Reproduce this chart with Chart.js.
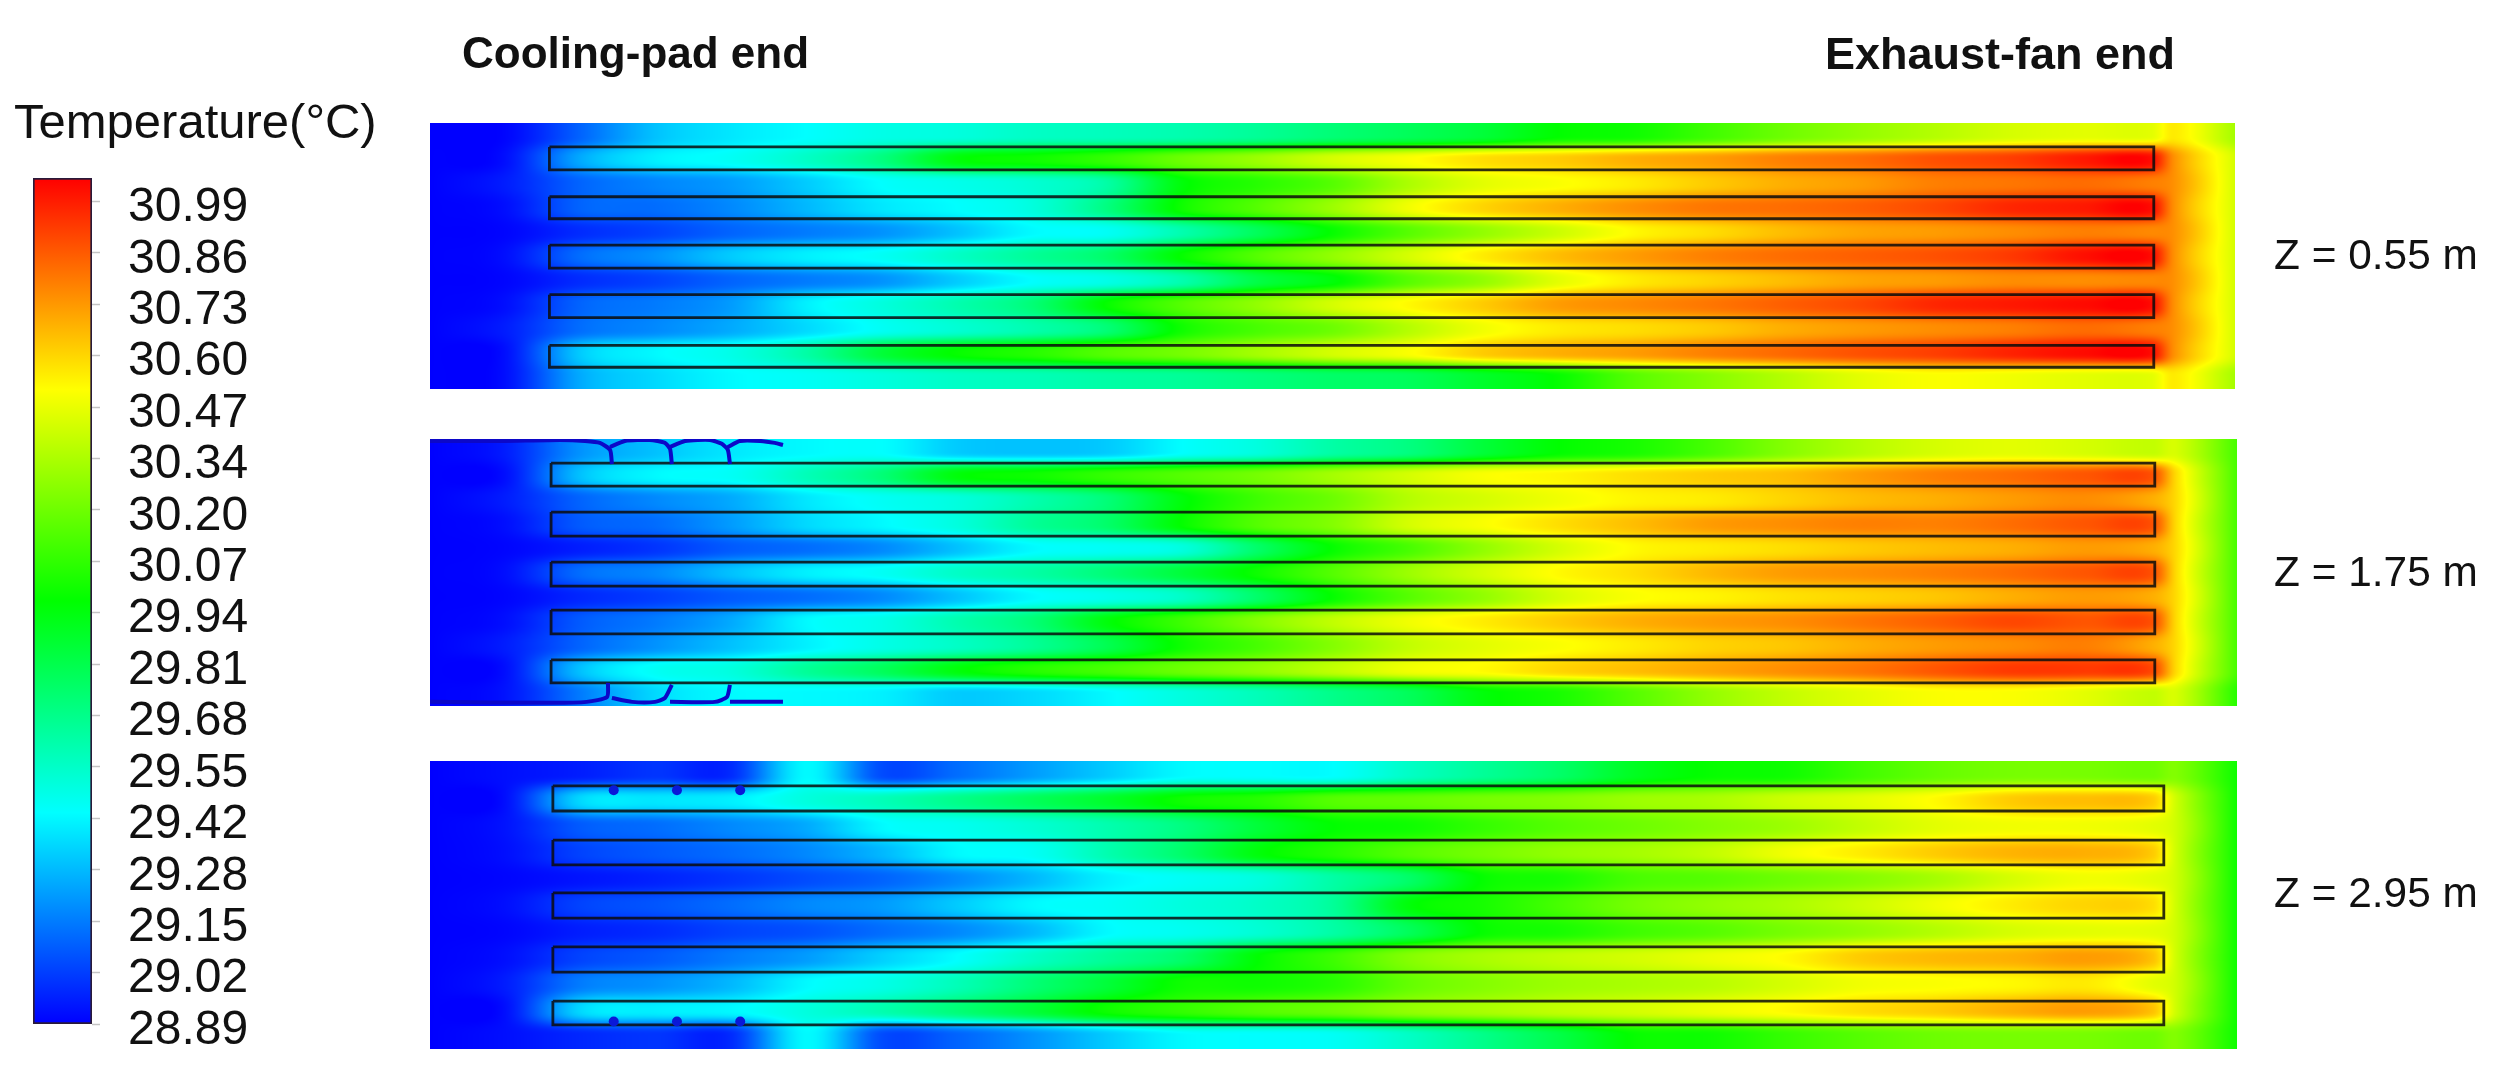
<!DOCTYPE html>
<html>
<head>
<meta charset="utf-8">
<script src="https://cdn.jsdelivr.net/npm/chart.js@4"></script>
<style>
html,body{margin:0;padding:0;background:#fff;width:2497px;height:1073px;overflow:hidden;}
canvas{position:absolute;filter:blur(0.7px);}
.t{position:absolute;font-family:"Liberation Sans",Arial,sans-serif;color:#111;line-height:1;white-space:nowrap;filter:blur(0.4px);}
</style>
</head>
<body>
<div class="t" style="left:14px;top:97px;font-size:49px;">Temperature(°C)</div>
<div class="t" style="left:462px;top:31px;font-size:44px;font-weight:bold;">Cooling-pad end</div>
<div class="t" style="left:1825px;top:31px;font-size:45px;font-weight:bold;">Exhaust-fan end</div>
<div class="t" style="left:2274px;top:234px;font-size:42.4px;">Z = 0.55 m</div>
<div class="t" style="left:2274px;top:551px;font-size:42.4px;">Z = 1.75 m</div>
<div class="t" style="left:2274px;top:872px;font-size:42.4px;">Z = 2.95 m</div>

<canvas id="bar" width="255" height="940" style="left:0;top:130px;width:255px;height:940px"></canvas>
<canvas id="p1" width="1805" height="266" style="left:430px;top:123px;width:1805px;height:266px"></canvas>
<canvas id="p2" width="1807" height="267" style="left:430px;top:439px;width:1807px;height:267px"></canvas>
<canvas id="p3" width="1807" height="288" style="left:430px;top:761px;width:1807px;height:288px"></canvas>

<script>
// Colour-bar tick labels (°C), bottom to top; the legend spaces them evenly
const colorbarLabels = ['28.89','29.02','29.15','29.28','29.42','29.55','29.68','29.81','29.94','30.07','30.20','30.34','30.47','30.60','30.73','30.86','30.99'];
const tempMin = 28.89, tempMax = 31.05, tickTop = 30.99;

// Stations along the house (m) for the temperature readings
const stations = [0,2.5,5,7.5,10,12.5,15,17.5,20,22.5,25,27.5,30,32.5,35,37.5,40,42.5,45,47.5,50,52.5,55,57.2,58,60];
const houseWidth = 11;

// Temperature readings (°C): one row per lengthwise strip, top wall to bottom wall
const tempZ055 = [
[28.89,28.90,29.10,29.30,29.38,29.43,29.48,29.50,29.55,29.57,29.60,29.65,29.72,29.78,29.85,29.97,30.00,30.10,30.20,30.28,30.35,30.42,30.45,30.45,30.55,30.32],
[28.89,28.92,29.25,29.40,29.45,29.55,29.70,29.95,30.00,30.08,30.20,30.30,30.42,30.50,30.58,30.62,30.68,30.72,30.78,30.82,30.88,30.92,31.00,31.03,30.74,30.42],
[28.89,28.95,29.10,29.17,29.22,29.32,29.43,29.47,29.52,29.62,29.95,30.05,30.15,30.33,30.45,30.50,30.55,30.62,30.68,30.72,30.78,30.80,30.82,30.78,30.74,30.42],
[28.89,28.92,29.10,29.12,29.18,29.28,29.38,29.43,29.50,29.70,30.00,30.15,30.30,30.48,30.60,30.68,30.75,30.80,30.82,30.85,30.90,30.97,31.00,31.03,30.74,30.42],
[28.89,28.90,28.98,29.03,29.10,29.15,29.20,29.30,29.42,29.45,29.60,29.78,29.98,30.15,30.28,30.40,30.52,30.58,30.65,30.70,30.72,30.75,30.78,30.76,30.74,30.42],
[28.89,28.92,29.12,29.20,29.32,29.40,29.45,29.55,29.65,29.75,29.98,30.15,30.28,30.42,30.55,30.65,30.72,30.78,30.82,30.85,30.88,30.93,31.02,31.03,30.74,30.42],
[28.89,28.90,28.98,29.03,29.10,29.15,29.20,29.32,29.43,29.48,29.60,29.82,29.95,30.15,30.28,30.45,30.55,30.60,30.65,30.70,30.72,30.75,30.75,30.76,30.74,30.42],
[28.89,28.92,29.10,29.15,29.22,29.40,29.50,29.60,29.72,29.98,30.15,30.28,30.42,30.52,30.62,30.72,30.76,30.80,30.85,30.90,30.97,31.00,31.03,31.03,30.74,30.42],
[28.89,28.95,29.12,29.18,29.25,29.35,29.45,29.52,29.60,29.72,30.00,30.12,30.20,30.35,30.48,30.55,30.58,30.62,30.68,30.72,30.75,30.78,30.82,30.78,30.74,30.42],
[28.89,28.92,29.32,29.42,29.48,29.62,29.85,29.98,30.05,30.15,30.22,30.32,30.42,30.50,30.62,30.68,30.72,30.78,30.83,30.88,30.92,30.98,31.03,31.03,30.74,30.42],
[28.89,28.92,29.25,29.35,29.42,29.45,29.50,29.55,29.58,29.62,29.65,29.70,29.75,29.78,29.88,29.98,30.15,30.25,30.35,30.45,30.50,30.48,30.45,30.45,30.55,30.32]
];
const tempZ175 = [
[28.89,28.95,29.20,29.30,29.38,29.42,29.43,29.32,29.30,29.32,29.43,29.50,29.62,29.70,29.85,29.97,30.02,30.12,30.25,30.35,30.42,30.45,30.42,30.38,30.42,30.12],
[28.89,28.92,29.30,29.42,29.45,29.58,29.72,29.95,30.00,30.08,30.15,30.22,30.32,30.42,30.50,30.53,30.58,30.62,30.65,30.72,30.78,30.82,30.87,30.88,30.58,30.12],
[28.89,28.95,29.10,29.18,29.25,29.38,29.45,29.50,29.60,29.72,29.95,30.10,30.20,30.35,30.42,30.48,30.53,30.55,30.60,30.65,30.68,30.72,30.75,30.68,30.58,30.12],
[28.89,28.92,29.08,29.12,29.22,29.35,29.42,29.50,29.65,29.75,29.98,30.15,30.25,30.42,30.50,30.58,30.65,30.72,30.75,30.78,30.78,30.82,30.87,30.88,30.58,30.12],
[28.89,28.90,28.95,29.00,29.08,29.12,29.18,29.30,29.42,29.45,29.50,29.75,29.98,30.12,30.28,30.42,30.52,30.55,30.58,30.62,30.65,30.68,30.72,30.68,30.58,30.12],
[28.89,28.92,29.12,29.18,29.30,29.40,29.45,29.55,29.62,29.72,29.85,30.00,30.15,30.30,30.42,30.52,30.58,30.66,30.72,30.75,30.78,30.82,30.87,30.88,30.58,30.12],
[28.89,28.90,28.97,29.02,29.08,29.12,29.18,29.30,29.42,29.47,29.55,29.75,29.98,30.15,30.28,30.42,30.50,30.53,30.57,30.60,30.63,30.68,30.72,30.68,30.58,30.12],
[28.89,28.92,29.08,29.15,29.25,29.42,29.48,29.60,29.72,29.95,30.10,30.25,30.38,30.48,30.55,30.62,30.68,30.72,30.75,30.80,30.85,30.90,30.87,30.88,30.58,30.12],
[28.89,28.95,29.10,29.20,29.30,29.40,29.48,29.55,29.65,29.80,30.00,30.12,30.25,30.38,30.45,30.50,30.55,30.60,30.63,30.68,30.72,30.75,30.78,30.68,30.58,30.12],
[28.89,28.92,29.30,29.45,29.50,29.65,29.78,29.95,30.05,30.12,30.20,30.28,30.38,30.48,30.52,30.60,30.65,30.70,30.75,30.80,30.87,30.93,30.93,30.90,30.58,30.12],
[28.89,28.93,29.15,29.35,29.42,29.42,29.40,29.32,29.35,29.42,29.50,29.58,29.68,29.78,29.95,30.02,30.15,30.28,30.38,30.45,30.50,30.50,30.45,30.38,30.42,30.05]
];
const tempZ295 = [
[28.89,28.92,28.95,29.00,28.98,29.42,29.05,29.12,29.22,29.32,29.42,29.43,29.43,29.55,29.65,29.75,29.90,29.98,30.00,30.10,30.18,30.22,30.22,30.20,30.24,30.00],
[28.89,28.92,29.35,29.38,29.40,29.50,29.58,29.68,29.78,29.88,30.00,30.05,30.15,30.18,30.22,30.25,30.30,30.33,30.40,30.45,30.52,30.62,30.65,30.62,30.40,30.00],
[28.89,28.93,29.08,29.12,29.18,29.25,29.42,29.46,29.52,29.60,29.70,29.85,29.97,30.00,30.08,30.15,30.20,30.25,30.30,30.38,30.45,30.48,30.48,30.45,30.40,30.00],
[28.89,28.92,29.03,29.08,29.12,29.18,29.28,29.42,29.45,29.60,29.75,29.95,30.05,30.15,30.22,30.28,30.32,30.38,30.48,30.55,30.62,30.67,30.68,30.62,30.40,30.00],
[28.89,28.90,28.93,28.96,29.00,29.05,29.10,29.18,29.28,29.40,29.45,29.50,29.62,29.75,29.98,30.02,30.12,30.15,30.20,30.25,30.32,30.42,30.48,30.45,30.40,30.00],
[28.89,28.92,29.03,29.07,29.12,29.18,29.22,29.32,29.42,29.45,29.50,29.55,29.65,29.95,30.02,30.12,30.22,30.28,30.33,30.40,30.48,30.55,30.60,30.58,30.40,30.00],
[28.89,28.90,28.95,28.98,29.03,29.06,29.12,29.18,29.28,29.42,29.46,29.52,29.62,29.78,29.98,30.02,30.10,30.15,30.22,30.28,30.35,30.42,30.45,30.45,30.40,30.00],
[28.89,28.92,29.03,29.08,29.15,29.22,29.33,29.43,29.55,29.65,29.75,29.97,30.10,30.25,30.33,30.38,30.42,30.47,30.52,30.62,30.66,30.68,30.72,30.64,30.40,30.00],
[28.89,28.95,29.15,29.20,29.28,29.42,29.48,29.58,29.72,29.85,30.00,30.00,30.05,30.18,30.25,30.30,30.33,30.36,30.42,30.48,30.50,30.52,30.55,30.45,30.40,30.00],
[28.89,28.92,29.35,29.40,29.42,29.50,29.60,29.72,29.85,30.00,30.08,30.15,30.20,30.28,30.33,30.38,30.42,30.47,30.52,30.58,30.62,30.68,30.72,30.64,30.40,30.00],
[28.89,28.92,28.97,29.00,28.98,29.42,29.05,29.10,29.20,29.32,29.42,29.43,29.45,29.55,29.68,29.82,29.98,30.00,30.08,30.15,30.20,30.22,30.22,30.20,30.24,30.00]
];

// Bed outlines (m): start, end along the house; across the house as [near, far]
const bedsZ055 = {from:3.97, to:57.3,  rows:[[0.99,1.94],[3.05,3.96],[5.05,6.0],[7.1,8.05],[9.2,10.1]]};
const bedsZ175 = {from:4.02, to:57.27, rows:[[0.99,1.94],[3.01,4.0],[5.07,6.06],[7.05,8.03],[9.1,10.05]]};
const bedsZ295 = {from:4.08, to:57.57, rows:[[0.95,1.91],[3.02,3.97],[5.04,6.0],[7.1,8.06],[9.17,10.08]]};

// Condensed-water streaks near the pad at Z = 1.75 m (m)
const streakTopX = [0,2.32,4.32,5.15,5.64,5.98,6.04,null,5.98,6.47,7.3,7.8,7.97,8.03,null,7.97,8.47,9.3,9.69,9.89,9.96,null,9.89,10.29,10.96,11.45,11.72];
const streakTopY = [0.08,0.08,0.04,0.08,0.16,0.45,1.03,null,0.33,0.08,0.04,0.16,0.41,1.03,null,0.33,0.08,0.04,0.2,0.45,1.03,null,0.33,0.08,0.08,0.16,0.25];
const streakBotX = [0,4.05,5.2,5.88,5.91,null,6.04,6.71,7.47,7.8,8.03,null,7.97,9.46,9.86,9.96,null,9.96,11.72];
const streakBotY = [10.83,10.87,10.83,10.63,10.05,null,10.67,10.83,10.83,10.67,10.13,null,10.83,10.83,10.63,10.13,null,10.83,10.83];
// Condensed-water spots at Z = 2.95 m (m)
const spotsX = [6.1,8.2,10.3,6.1,8.2,10.3];
const spotsY = [1.12,1.12,1.12,9.95,9.95,9.95];

const rainbow = [[0,0,255],[0,255,255],[0,255,0],[255,255,0],[255,0,0]];
function colourOf(v){
  let t = (v-tempMin)/(tempMax-tempMin)*4;
  t = Math.max(0,Math.min(3.9999,t));
  const i = Math.floor(t), f = t-i, a = rainbow[i], b = rainbow[i+1];
  return [a[0]+(b[0]-a[0])*f, a[1]+(b[1]-a[1])*f, a[2]+(b[2]-a[2])*f];
}
const ease = t => t*t*t*(t*(t*6-15)+10);

// Paints the temperature cells of dataset 0 through the chart's scales
const fieldPlugin = {
  id:'field',
  beforeDatasetsDraw(chart){
    const {ctx,chartArea:a,scales:{x,y}} = chart;
    const pts = chart.data.datasets[0].data;
    const nc = stations.length, nr = pts.length/nc;
    const val = (r,c)=>{
      r = Math.max(0,Math.min(nr-1,r));
      return pts[r*nc+c].t;
    };
    const w = Math.round(a.right-a.left), h = Math.round(a.bottom-a.top);
    const off = document.createElement('canvas'); off.width=w; off.height=h;
    const oc = off.getContext('2d'), img = oc.createImageData(w,h);
    const xs = new Array(w);
    for(let i=0;i<w;i++){
      const v = x.getValueForPixel(a.left+i+0.5);
      let c = 0; while(c<nc-2 && stations[c+1]<=v) c++;
      const hx = stations[c+1]-stations[c];
      const t = Math.max(0,Math.min(1,(v-stations[c])/hx));
      const p = Math.max(0,c-1), q = Math.min(nc-1,c+2);
      xs[i] = {c,t,hx,p,q,d0:stations[c+1]-stations[p],d1:stations[q]-stations[c]};
    }
    let o = 0;
    for(let j=0;j<h;j++){
      const fy = y.getValueForPixel(a.top+j+0.5)-0.5;
      const r0 = Math.floor(fy), ty = ease(fy-r0);
      const at = c => { const n = val(r0,c), m = val(r0+1,c); return n+(m-n)*ty; };
      for(let i=0;i<w;i++){
        const s = xs[i], t = s.t, t2 = t*t, t3 = t2*t;
        const v0 = at(s.c), v1 = at(s.c+1);
        const m0 = (v1-at(s.p))/s.d0*s.hx, m1 = (at(s.q)-v0)/s.d1*s.hx;
        const v = (2*t3-3*t2+1)*v0+(t3-2*t2+t)*m0+(-2*t3+3*t2)*v1+(t3-t2)*m1;
        const c = colourOf(v);
        img.data[o++]=c[0]; img.data[o++]=c[1]; img.data[o++]=c[2]; img.data[o++]=255;
      }
    }
    oc.putImageData(img,0,0);
    ctx.drawImage(off,a.left,a.top,a.right-a.left,a.bottom-a.top);
  }
};

function cells(rows){
  const out = [];
  rows.forEach((row,r)=>row.forEach((t,c)=>out.push({x:stations[c],y:r+0.5,t})));
  return out;
}
function bedSets(b){
  return b.rows.map(([n,f])=>({
    type:'scatter',showLine:true,pointRadius:0,borderColor:'rgba(12,12,12,0.85)',borderWidth:2.8,borderJoinStyle:'miter',clip:false,
    data:[{x:b.from,y:n},{x:b.to,y:n},{x:b.to,y:f},{x:b.from,y:f},{x:b.from,y:n}]
  }));
}
function polyline(xs,ys){
  return {type:'scatter',showLine:true,spanGaps:false,pointRadius:0,borderColor:'#0c08c8',borderWidth:4,tension:0.2,
    data:xs.map((v,i)=>({x:v===null?NaN:v,y:ys[i]===null?NaN:ys[i]}))};
}
function panel(id,rows,beds,extra){
  new Chart(document.getElementById(id),{
    type:'scatter',
    data:{datasets:[{label:'Temperature',data:cells(rows),pointRadius:0,pointHoverRadius:0}].concat(extra||[],bedSets(beds))},
    options:{
      responsive:false,animation:false,devicePixelRatio:1,
      layout:{padding:0,autoPadding:false},
      plugins:{legend:{display:false},tooltip:{enabled:false}},
      events:[],
      scales:{
        x:{type:'linear',display:false,min:stations[0],max:stations[stations.length-1]},
        y:{type:'linear',display:false,min:0,max:houseWidth,reverse:true}
      }
    },
    plugins:[fieldPlugin]
  });
}
panel('p1',tempZ055,bedsZ055);
panel('p2',tempZ175,bedsZ175,[polyline(streakTopX,streakTopY),polyline(streakBotX,streakBotY)]);
panel('p3',tempZ295,bedsZ295,[{type:'scatter',pointRadius:5,pointStyle:'circle',backgroundColor:'#0a18d8',borderWidth:0,
  data:spotsX.map((v,i)=>({x:v,y:spotsY[i]}))}]);

// Colour bar
const tickStep = (tickTop-tempMin)/(colorbarLabels.length-1);
new Chart(document.getElementById('bar'),{
  type:'bar',
  data:{labels:['T'],datasets:[{
    data:[[tempMin,tempMax]],
    barPercentage:1,categoryPercentage:1,
    borderColor:'#2a1a3a',borderWidth:2,borderSkipped:false,
    backgroundColor(c){
      const a = c.chart.chartArea; if(!a) return '#00f';
      const g = c.chart.ctx.createLinearGradient(0,a.bottom,0,a.top);
      rainbow.forEach((s,i)=>g.addColorStop(i/4,`rgb(${s[0]},${s[1]},${s[2]})`));
      return g;
    }
  }]},
  options:{
    responsive:false,animation:false,devicePixelRatio:1,
    layout:{padding:{left:33,top:48,bottom:46,right:4},autoPadding:false},
    plugins:{legend:{display:false},tooltip:{enabled:false}},
    events:[],
    scales:{
      x:{display:false},
      y:{
        position:'right',min:tempMin,max:tempMax,
        afterBuildTicks(s){ s.ticks = colorbarLabels.map((l,i)=>({value:tempMin+i*tickStep})); },
        afterFit(s){ s.width = 159; s.paddingTop = 0; s.paddingBottom = 0; },
        border:{display:false},
        grid:{drawOnChartArea:false,tickLength:8,tickColor:'#c4c4c4',tickWidth:1.5},
        ticks:{autoSkip:false,maxRotation:0,padding:28,labelOffset:6.5,color:'#111',
          font:{family:'"Liberation Sans",Arial,sans-serif',size:48},
          callback(v,i){ return colorbarLabels[i]; }}
      }
    }
  }
});
</script>
</body>
</html>
